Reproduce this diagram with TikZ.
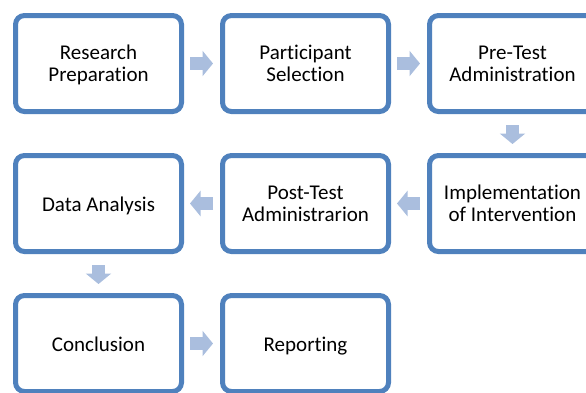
\documentclass[tikz,border=0pt]{standalone}
\usepackage{fontspec}
\setmainfont{Carlito}[Ligatures=NoCommon]
\usetikzlibrary{arrows.meta}
\definecolor{boxblue}{RGB}{79,129,189}
\definecolor{arrowblue}{RGB}{170,190,222}
\begin{document}
\begin{tikzpicture}[x=1pt,y=-1pt,
  stage/.style={draw=boxblue, line width=5pt, rounded corners=9pt, fill=white,
    minimum width=166pt, minimum height=96pt, align=center, text=black,
    font=\fontsize{21}{22.5}\selectfont},
  oneline/.style={stage, text height=16pt, text depth=0pt},
  twoline/.style={stage, text height=36.4pt, text depth=0pt},
  flow/.style={draw=arrowblue, line width=13pt,
    -{Triangle[length=10.5pt,width=25pt]}}]
\useasboundingbox (0,0) rectangle (586,392);
% three rows of stages, read in a snake order
\node[twoline] (res)  at (98.5,63.5)  {Research\\Preparation};
\node[twoline] (part) at (305.5,63.5) {Participant\\Selection};
\node[twoline] (pre)  at (512.5,63.5) {Pre-Test\\Administration};
\node[twoline] (impl) at (512.5,203.5) {Implementation\\of Intervention};
\node[twoline] (post) at (305.5,203.5) {Post-Test\\Administrarion};
\node[oneline] (data) at (98.5,203.5) {Data Analysis};
\node[oneline] (conc) at (98.5,343.5) {Conclusion};
\node[oneline] (rep)  at (305.5,343.5) {Reporting};
% block arrows between consecutive stages
\draw[flow, shorten <=6pt, shorten >=7pt] (res) -- (part);
\draw[flow, shorten <=6pt, shorten >=7pt] (part) -- (pre);
\draw[flow, shorten <=11pt, shorten >=9pt] (pre) -- (impl);
\draw[flow, shorten <=7pt, shorten >=6pt] (impl) -- (post);
\draw[flow, shorten <=7pt, shorten >=6pt] (post) -- (data);
\draw[flow, shorten <=11pt, shorten >=9pt] (data) -- (conc);
\draw[flow, shorten <=6pt, shorten >=7pt] (conc) -- (rep);
\end{tikzpicture}
\end{document}
